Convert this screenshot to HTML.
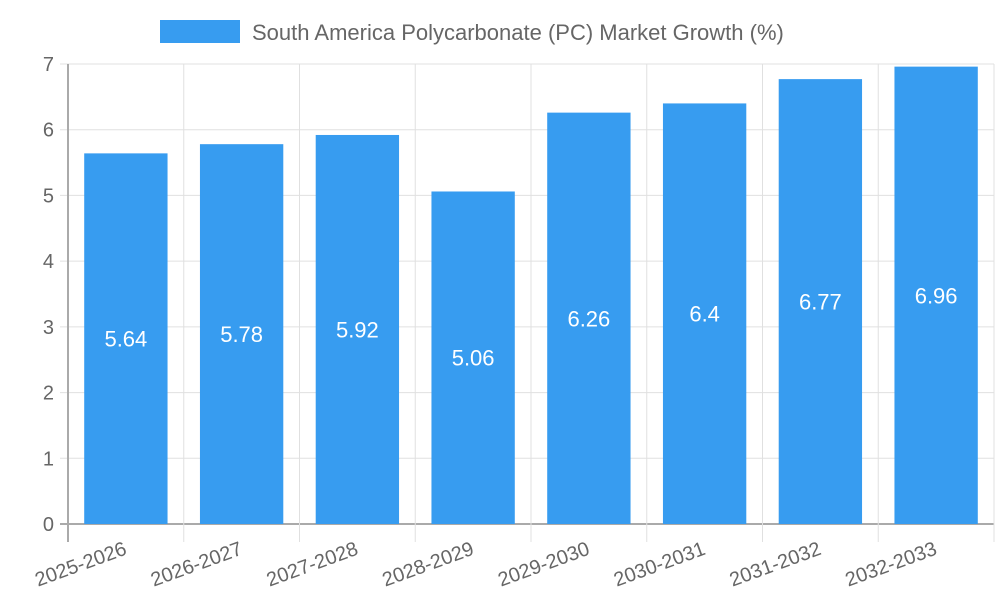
<!DOCTYPE html>
<html><head><meta charset="utf-8"><style>
body{margin:0;background:#fff}
svg text{font-family:"Liberation Sans",sans-serif}
</style></head><body>
<svg id="c" width="1000" height="600" xmlns="http://www.w3.org/2000/svg">
<g>
<rect x="160" y="20" width="80" height="23" fill="#379cf0"/>
<text x="252" y="40" font-size="22" fill="#666">South America Polycarbonate (PC) Market Growth (%)</text>
</g>
</svg>
<script>
const categories=["2025-2026","2026-2027","2027-2028","2028-2029","2029-2030","2030-2031","2031-2032","2032-2033"];
const values=[5.64,5.78,5.92,5.06,6.26,6.4,6.77,6.96];
const yTicks=[0,1,2,3,4,5,6,7];
const svg=document.getElementById('c');
const NS='http://www.w3.org/2000/svg';
const L=68,R=994,T=64,B=524,yMax=7;
const bw=(R-L)/categories.length;
const y=v=>B-(v/yMax)*(B-T);
const x=i=>L+i*bw;
function mk(t,a,p){const e=document.createElementNS(NS,t);for(const k in a)e.setAttribute(k,a[k]);(p||svg).appendChild(e);return e;}
const grid=mk('g',{});


yTicks.forEach(t=>{
 const ln=mk('line',{x1:L-8,x2:R,y1:y(t),y2:y(t),stroke:t===0?'#aaa':'#e0e0e0','stroke-width':t===0?2:1},grid);
 
 
 const tx=mk('text',{x:L-14,y:y(t)+7,'text-anchor':'end','font-size':20,fill:'#666'});
 
 
 tx.textContent=t;
});
for(let i=0;i<=categories.length;i++){
 const ln=mk('line',{x1:x(i),x2:x(i),y1:T,y2:B+18,stroke:i===0?'#aaa':'#e0e0e0','stroke-width':i===0?2:1},grid);
 
 
}
categories.forEach((c,i)=>{
 const w=bw*0.72,bx=x(i)+(bw-w)/2,top=y(values[i]);
 const r=mk('rect',{x:bx,y:top,width:w,height:B-top,fill:'#379cf0'});
 
 
 const v=mk('text',{x:bx+w/2,y:(top+B)/2+8,'text-anchor':'middle','font-size':22,fill:'#fff'});
 
 
 v.textContent=values[i];
 const cx=x(i)+bw/2;
 const lb=mk('text',{x:cx+2,y:B+30,'text-anchor':'end','font-size':20,fill:'#666',transform:'rotate(-20 '+(cx+2)+' '+(B+30)+')'});
 
 
 lb.textContent=c;
});
</script>
</body></html>
